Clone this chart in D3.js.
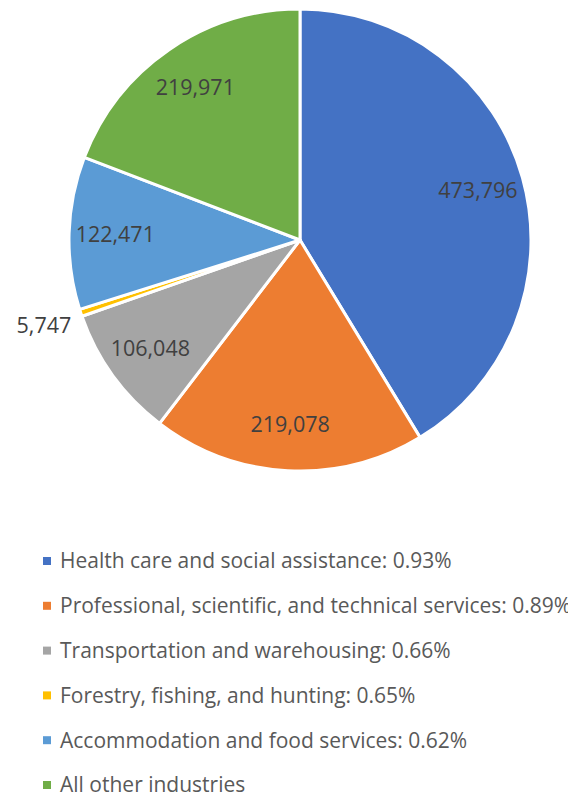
<!DOCTYPE html>
<html>
<head>
<meta charset="utf-8">
<script src="https://cdn.jsdelivr.net/npm/d3@7"></script>
<style>
  body { margin: 0; background: #fff; }
  svg { display: block; font-family: "Open Sans", "Noto Sans", sans-serif; }
</style>
</head>
<body>
<div id="chart"></div>
<script>
// Data
const categories = [
  'Health care and social assistance: 0.93%',
  'Professional, scientific, and technical services: 0.89%',
  'Transportation and warehousing: 0.66%',
  'Forestry, fishing, and hunting: 0.65%',
  'Accommodation and food services: 0.62%',
  'All other industries'
]
const values = [473796, 219078, 106048, 5747, 122471, 219971]
const colors = ['#4472C4', '#ED7D31', '#A5A5A5', '#FFC000', '#5B9BD5', '#70AD47']

const width = 568
const height = 795
const cx = 300
const cy = 240
const radius = 231

const svg = d3.select('#chart').append('svg')
  .attr('width', width)
  .attr('height', height)

const rows = categories.map((c, i) => ({ name: c, value: values[i], color: colors[i] }))

const pie = d3.pie().sort(null).value(d => d.value)
const arcs = pie(rows)
const arc = d3.arc().innerRadius(0).outerRadius(radius)
const labelArc = d3.arc().innerRadius(radius * 0.8).outerRadius(radius * 0.8)
const outerArc = d3.arc().innerRadius(radius + 10).outerRadius(radius + 10)

const g = svg.append('g').attr('transform', `translate(${cx},${cy})`)

g.selectAll('path.slice')
  .data(arcs)
  .join('path')
  .attr('class', 'slice')
  .attr('d', arc)
  .attr('fill', d => d.data.color)
  .attr('stroke', '#fff')
  .attr('stroke-width', 3)
  .attr('stroke-linejoin', 'round')

const fmt = d3.format(',')
g.selectAll('text.label')
  .data(arcs)
  .join('text')
  .attr('class', 'label')
  .each(function(d) {
    const small = (d.endAngle - d.startAngle) < 0.1
    const [x, y] = small ? outerArc.centroid(d) : labelArc.centroid(d)
    d3.select(this)
      .attr('x', x)
      .attr('y', y + (small ? 10 : 0))
      .attr('text-anchor', small ? 'end' : 'middle')
  })
  .attr('dy', '0.35em')
  .attr('font-size', 21.5)
  .attr('fill', '#404040')
  .text(d => fmt(d.data.value))

// Legend
const legend = svg.append('g').attr('transform', 'translate(43, 561)')
const item = legend.selectAll('g.item')
  .data(rows)
  .join('g')
  .attr('class', 'item')
  .attr('transform', (_, i) => `translate(0, ${i * 44.8})`)

item.append('rect')
  .attr('x', 0)
  .attr('y', -4)
  .attr('width', 8)
  .attr('height', 8)
  .attr('fill', d => d.color)

item.append('text')
  .attr('x', 17)
  .attr('dy', '0.35em')
  .attr('font-size', 21)
  .attr('fill', '#595959')
  .text(d => d.name)
</script>
</body>
</html>
